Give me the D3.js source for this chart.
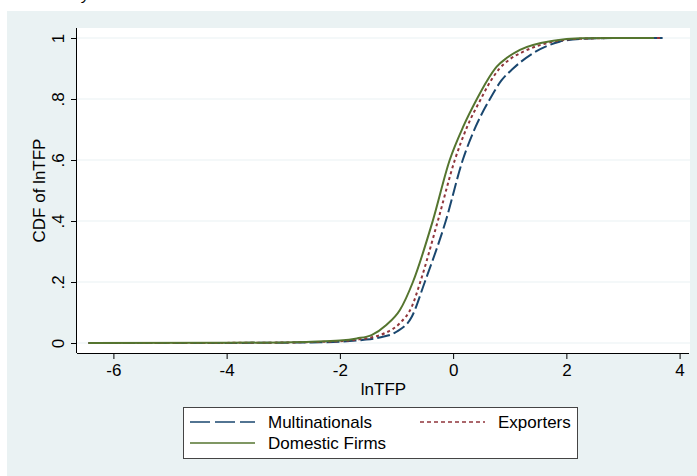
<!DOCTYPE html>
<html>
<head>
<meta charset="utf-8">
<script src="https://cdn.jsdelivr.net/npm/d3@7"></script>
<style>
  body { margin: 0; background: #fff; }
  svg { display: block; font-family: Arial, "Liberation Sans", sans-serif; }
</style>
</head>
<body>
<svg id="chart" width="697" height="476"></svg>
<script>
// ticks
var xTicks = [-6, -4, -2, 0, 2, 4];
var yTicks = [0, 0.2, 0.4, 0.6, 0.8, 1];
var yTickLabels = ["0", ".2", ".4", ".6", ".8", "1"];

// series (lnTFP, CDF)
var multiX = [-6.44, -4, -3, -2.5, -2, -1.6, -1.3, -1.0, -0.73, -0.5, -0.13, 0.17, 0.4, 0.65, 0.85, 1.06, 1.41, 1.88, 2.24, 3.0, 3.7];
var multiY = [0, 0.0003, 0.001, 0.002, 0.004, 0.01, 0.018, 0.037, 0.086, 0.2, 0.40, 0.60, 0.71, 0.80, 0.86, 0.90, 0.95, 0.988, 0.997, 1, 1];

var expX = [-6.44, -4, -3, -2.5, -2, -1.7, -1.45, -1.21, -0.94, -0.73, -0.58, -0.27, 0.03, 0.25, 0.49, 0.65, 0.82, 1.0, 1.24, 1.77, 2.3, 3.0, 3.7];
var expY = [0, 0.0004, 0.0015, 0.003, 0.006, 0.011, 0.018, 0.032, 0.065, 0.119, 0.2, 0.40, 0.60, 0.71, 0.80, 0.855, 0.90, 0.93, 0.955, 0.988, 0.998, 1, 1];

var domX = [-6.44, -4, -3, -2.5, -2, -1.7, -1.44, -1.18, -0.94, -0.71, -0.36, -0.06, 0.18, 0.42, 0.6, 0.77, 0.95, 1.18, 1.77, 2.24, 3.0, 3.55];
var domY = [0, 0.0005, 0.002, 0.004, 0.008, 0.015, 0.026, 0.059, 0.108, 0.2, 0.40, 0.60, 0.71, 0.80, 0.86, 0.906, 0.935, 0.961, 0.991, 0.999, 1, 1];

var seriesNames = ["Multinationals", "Exporters", "Domestic Firms"];

var bg = "#eaf2f3";
var plot = { left: 77, right: 690, top: 28, bottom: 353 };

var svg = d3.select("#chart");

// clipped caption fragment at the very top
svg.append("text")
  .attr("x", 82)
  .attr("y", -0.5)
  .style("font-size", "15px")
  .style("font-style", "italic")
  .attr("fill", "#000")
  .text("y");

// outer graph region
svg.append("rect")
  .attr("x", 7).attr("y", 11)
  .attr("width", 697 - 7).attr("height", 476 - 11)
  .attr("fill", bg);

// plot region
svg.append("rect")
  .attr("x", plot.left).attr("y", plot.top)
  .attr("width", plot.right - plot.left).attr("height", plot.bottom - plot.top)
  .attr("fill", "#fff");

var x = d3.scaleLinear().domain([-6, 4]).range([113.4, 679.6]);
var y = d3.scaleLinear().domain([0, 1]).range([343, 38]);

// gridlines
svg.append("g")
  .selectAll("line")
  .data(yTicks)
  .join("line")
  .attr("x1", plot.left).attr("x2", plot.right)
  .attr("y1", function(d) { return y(d); })
  .attr("y2", function(d) { return y(d); })
  .attr("stroke", bg)
  .attr("stroke-width", 1.2);

// curves
var line = d3.line()
  .x(function(d) { return x(d[0]); })
  .y(function(d) { return y(d[1]); })
  .curve(d3.curveMonotoneX);

var series = [
  { xs: multiX, ys: multiY, color: "#1a476f", dash: "13,4" },
  { xs: expX, ys: expY, color: "#90353b", dash: "3,3" },
  { xs: domX, ys: domY, color: "#55752f", dash: null }
];

series.forEach(function(s) {
  var pts = d3.zip(s.xs, s.ys);
  svg.append("path")
    .attr("d", line(pts))
    .attr("fill", "none")
    .attr("stroke", s.color)
    .attr("stroke-width", 2)
    .attr("stroke-dasharray", s.dash);
});

// axes
var xAxis = svg.append("g")
  .attr("transform", "translate(0," + plot.bottom + ")")
  .call(d3.axisBottom(x).tickValues(xTicks).tickSize(6).tickPadding(5)
    .tickFormat(function(d) { return d < 0 ? "-" + Math.abs(d) : d; }));
xAxis.select(".domain").attr("d", "M" + plot.left + ",0.5H" + (plot.right - 1));
xAxis.selectAll("text").style("font-size", "17px").attr("fill", "#000").attr("font-family", null);

var yAxis = svg.append("g")
  .attr("transform", "translate(" + plot.left + ",0)")
  .call(d3.axisLeft(y).tickValues(yTicks).tickSize(6)
    .tickFormat(function(d, i) { return yTickLabels[i]; }));
yAxis.select(".domain").attr("d", "M-0.5," + plot.top + "V" + plot.bottom);
yAxis.selectAll("text")
  .attr("x", null).attr("dy", null)
  .attr("transform", "translate(-13,0) rotate(-90)")
  .attr("text-anchor", "middle")
  .style("font-size", "17px")
  .attr("fill", "#000")
  .attr("font-family", null);

// axis titles
svg.append("text")
  .attr("x", (plot.left + plot.right) / 2)
  .attr("y", 395)
  .attr("text-anchor", "middle")
  .style("font-size", "17px")
  .text("lnTFP");

svg.append("text")
  .attr("transform", "translate(45," + ((plot.top + plot.bottom) / 2) + ") rotate(-90)")
  .attr("text-anchor", "middle")
  .style("font-size", "17px")
  .text("CDF of lnTFP");

// legend
var legend = svg.append("g");
legend.append("rect")
  .attr("x", 183.5).attr("y", 407.5)
  .attr("width", 394).attr("height", 51)
  .attr("fill", "#fff")
  .attr("stroke", "#444")
  .attr("stroke-width", 1);

var legendPos = [
  { kx: 190, ty: 422 },
  { kx: 420, ty: 422 },
  { kx: 190, ty: 443 }
];
var legendDash = ["20,5", "4,3", null];

series.forEach(function(s, i) {
  var p = legendPos[i];
  legend.append("line")
    .attr("x1", p.kx).attr("x2", p.kx + 65)
    .attr("y1", p.ty).attr("y2", p.ty)
    .attr("stroke", s.color)
    .attr("stroke-width", 1.5)
    .attr("stroke-dasharray", legendDash[i]);
  legend.append("text")
    .attr("x", p.kx + 78)
    .attr("y", p.ty + 6)
    .style("font-size", "17px")
    .text(seriesNames[i]);
});
</script>
</body>
</html>
